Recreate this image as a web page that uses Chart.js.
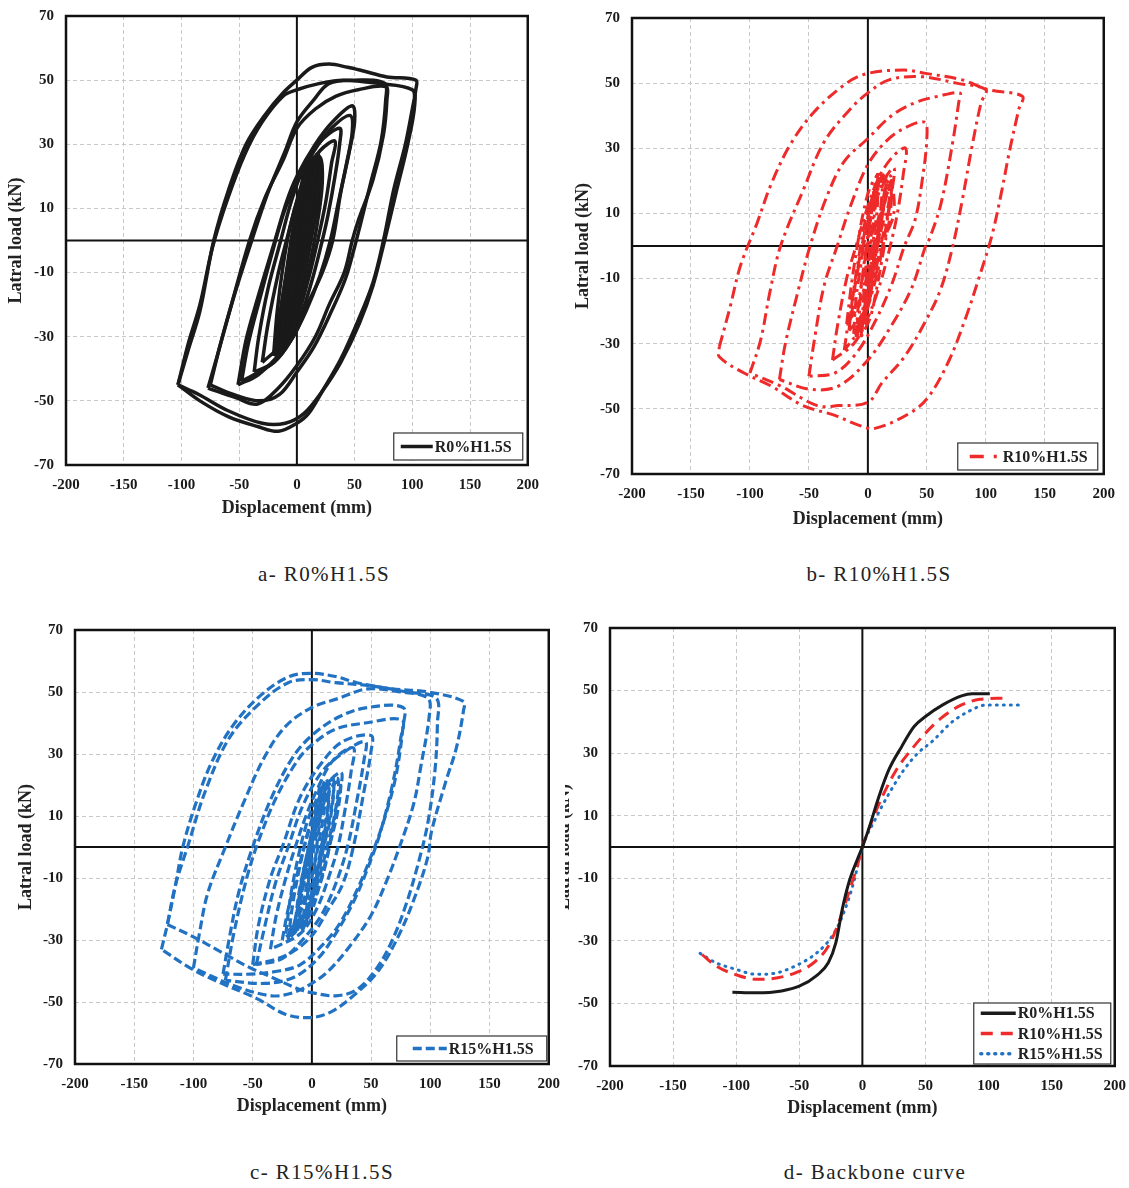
<!DOCTYPE html>
<html>
<head>
<meta charset="utf-8">
<script src="https://cdn.jsdelivr.net/npm/chart.js@4.4.1/dist/chart.umd.min.js"></script>
<style>
  body { margin: 0; background: #fff; width: 1129px; height: 1188px; position: relative; overflow: hidden; font-family: 'Liberation Serif', serif; }
  .box { position: absolute; }
  .cap { position: absolute; font-size: 21px; letter-spacing: 1.4px; color: #222; transform: translateX(-50%); white-space: nowrap; line-height: 24px; }
</style>
</head>
<body>
<div class="box" style="left:0;top:-5px"><canvas id="ca" width="550" height="530"></canvas></div>
<div class="box" style="left:565px;top:-3px"><canvas id="cb" width="561" height="537"></canvas></div>
<div class="box" style="left:0;top:609px"><canvas id="cc" width="571" height="515"></canvas></div>
<div class="box" style="left:565px;top:607px;width:564px;height:530px;overflow:hidden"><canvas id="cd" width="592" height="519" style="margin-left:-20px"></canvas></div>
<div class="cap" style="left:324px;top:562px">a- R0%H1.5S</div>
<div class="cap" style="left:879px;top:562px">b- R10%H1.5S</div>
<div class="cap" style="left:322px;top:1160px">c- R15%H1.5S</div>
<div class="cap" style="left:875px;top:1160px">d- Backbone curve</div>
<script>
// axis ticks
const xTicks = [-200, -150, -100, -50, 0, 50, 100, 150, 200];
const yTicks = [-70, -50, -30, -10, 10, 30, 50, 70];

// a - R0%H1.5S hysteresis loops (displacement mm, load kN)
const r0Loops = [
  [[-103,-45],[-94,-34],[-84,-22],[-72,0],[-59,16],[-44,30],[-28,39],[-12,46],[0,50],[13,54],[28,55],[44,54],[56,53],[78,51],[103,50],[103,47],[100,41],[94,30],[84,16],[75,0],[66,-13],[53,-25],[38,-37],[22,-47],[10,-54],[0,-57],[-16,-59.5],[-34,-58],[-59,-55],[-84,-50],[-103,-45]],
  [[-103,-45],[-94,-32],[-84,-20],[-73,-2],[-60,13],[-45,27],[-30,37],[-12,45],[0,47],[20,49],[40,50],[70,49],[100,47],[102,42],[96,30],[86,15],[76,0],[66,-14],[54,-26],[38,-38],[22,-47],[6,-54],[-10,-57],[-30,-57],[-60,-53],[-85,-48],[-103,-45]],
  [[-77,-46],[-69,-36],[-59,-23],[-41,0],[-28,13],[-12,25],[0,35],[16,41],[34,45],[53,47],[77,48],[78,44],[75,33],[66,19],[53,6],[48,0],[41,-10],[28,-20],[16,-30],[0,-39],[-16,-46],[-34,-51],[-53,-49],[-77,-46]],
  [[-75,-45],[-66,-32],[-55,-18],[-40,-1],[-25,15],[-10,28],[0,37],[15,44],[28,49],[50,50],[76,49],[77,44],[73,31],[64,18],[55,5],[50,-2],[42,-12],[30,-22],[15,-33],[0,-41],[-15,-48],[-32,-50],[-55,-48],[-75,-45]],
  [[-51,-45],[-44,-31],[-34,-18],[-19,0],[-9,12],[0,20],[16,30],[31,37],[48,42],[50,37],[45,27],[38,15],[31,0],[22,-10],[9,-20],[-3,-30],[-19,-37],[-34,-42],[-51,-45]],
  [[-48,-44],[-42,-32],[-32,-18],[-20,-2],[-10,10],[0,18],[15,28],[30,35],[46,39],[48,34],[43,24],[36,12],[29,0],[20,-11],[8,-22],[-5,-31],[-20,-38],[-48,-44]],
  [[-37,-41],[-33,-30],[-25,-15],[-14,0],[-5,12],[5,22],[18,30],[37,35],[37,30],[33,20],[27,8],[22,0],[15,-10],[5,-22],[-5,-31],[-20,-38],[-37,-41]],
  [[-30,-38],[-25,-26],[-16,-10],[-9,0],[0,12],[10,22],[20,28],[33,31],[30,24],[25,12],[18,0],[10,-12],[0,-24],[-12,-32],[-30,-38]],
  [[-20,-36],[-16,-26],[-10,-12],[-5,0],[0,10],[8,19],[17,25],[20,22],[17,12],[12,2],[7,-8],[0,-20],[-8,-30],[-20,-36]],
  [[-15,-35],[-12,-25],[-6,-10],[-2,0],[2,10],[8,20],[15,26],[15,20],[12,10],[8,0],[4,-10],[-2,-22],[-8,-30],[-15,-35]],
  [[-10,-33],[-7,-20],[-3,-8],[0,2],[4,12],[10,24],[12,18],[8,6],[4,-6],[0,-18],[-5,-28],[-10,-33]],
  [[-6,-30],[-3,-16],[0,-3],[3,10],[6,22],[8,14],[5,2],[2,-10],[-1,-20],[-6,-30]],
  [[-12,-30],[-8,-18],[-2,-4],[3,8],[9,18],[14,24],[16,14],[12,4],[6,-8],[0,-18],[-6,-26],[-12,-30]],
  [[-18,-34],[-14,-22],[-8,-8],[-3,3],[3,14],[10,22],[18,27],[20,22],[16,10],[10,-2],[4,-14],[-4,-26],[-18,-34]],
  [[-16,-33],[-12,-20],[-6,-6],[0,5],[6,15],[13,24],[16,18],[12,6],[6,-6],[0,-18],[-8,-28],[-16,-33]],
  [[-8,-30],[-5,-18],[-1,-6],[3,6],[8,17],[14,25],[13,14],[8,2],[3,-10],[-2,-22],[-8,-30]],
  [[-4,-24],[-1,-12],[2,0],[5,12],[10,26],[11,16],[7,4],[3,-8],[0,-18],[-4,-24]],
  [[-14,-30],[-10,-16],[-5,-4],[1,8],[7,18],[4,8],[0,-4],[-5,-16],[-14,-30]],
  [[2,-10],[5,5],[8,18],[18,26],[14,14],[9,2],[5,-8],[2,-10]],
  [[-20,-35],[-17,-22],[-12,-8],[-6,4],[2,15],[10,23],[20,26],[22,18],[18,6],[12,-6],[5,-18],[-5,-30],[-20,-35]],
  [[-17,-36],[-14,-28],[-10,-18],[-4,-6],[4,8],[12,18],[21,24],[19,14],[14,4],[8,-8],[0,-22],[-8,-32],[-17,-36]],
  [[-13,-34],[-8,-26],[-2,-14],[4,-2],[10,10],[16,20],[19,24],[17,10],[11,-2],[5,-14],[-3,-26],[-13,-34]]
];

// b - R10%H1.5S
const r10Loops = [
  [[-126,-31],[-117,-19],[-108,-6],[-94,7],[-82,19],[-66,31],[-46,41],[-18,50],[0,53],[31,54],[49,53],[80,51],[102,48],[131,46],[128,42],[120,29],[113,16],[105,3],[94,-10],[83,-22],[69,-35],[52,-46],[37,-51],[6,-56],[-8,-55],[-28,-52],[-55,-49],[-82,-43],[-105,-39],[-126,-34],[-126,-31]],
  [[-100,-39],[-91,-29],[-83,-14],[-74,0],[-55,17],[-37,32],[-15,42],[0,47],[18,51],[45,52],[75,50],[100,48],[96,44],[88,30],[80,14],[72,0],[62,-13],[49,-23],[31,-34],[12,-42],[0,-48],[-25,-49],[-43,-49],[-74,-43],[-100,-39]],
  [[-75,-41],[-70,-30],[-60,-15],[-49,0],[-35,15],[-20,26],[0,33],[20,40],[40,44],[60,46],[78,47],[77,44],[72,32],[62,13],[52,2],[49,0],[37,-13],[19,-25],[0,-35],[-25,-43],[-49,-44],[-75,-41]],
  [[-50,-40],[-45,-28],[-37,-12],[-26,0],[-15,12],[0,25],[15,32],[30,36],[48,38],[50,33],[46,20],[40,8],[31,0],[20,-12],[5,-24],[-10,-33],[-28,-39],[-50,-40]],
  [[-30,-35],[-26,-25],[-18,-10],[-10,0],[-2,10],[8,20],[20,27],[32,30],[30,22],[25,10],[19,0],[10,-12],[0,-22],[-12,-30],[-30,-35]],
  [[-20,-32],[-16,-22],[-10,-10],[-4,0],[2,10],[10,18],[22,24],[20,16],[15,5],[10,-5],[3,-15],[-6,-25],[-20,-32]],
  [[-10,-28],[-8,-18],[-4,-8],[0,2],[4,12],[10,20],[15,21],[12,12],[8,2],[4,-8],[0,-18],[-5,-25],[-10,-28]],
  [[-5,-25],[-3,-12],[0,0],[3,12],[8,22],[8,12],[4,0],[1,-12],[-5,-25]],
  [[-12,-27],[-10,-16],[-6,-6],[-2,4],[3,13],[9,20],[15,22],[14,14],[10,4],[6,-6],[1,-16],[-5,-23],[-12,-27]],
  [[-8,-26],[-6,-14],[-2,-2],[2,8],[6,16],[12,21],[11,12],[7,2],[3,-10],[-1,-18],[-8,-26]],
  [[-14,-22],[-10,-10],[-4,2],[2,12],[8,19],[5,8],[1,-4],[-4,-14],[-14,-22]],
  [[-3,-20],[0,-8],[3,4],[7,14],[16,20],[18,14],[12,6],[6,-4],[2,-14],[-3,-20]],
  [[-10,-24],[-4,-20],[4,-2],[10,10],[20,18],[22,10],[14,2],[6,-10],[-2,-20],[-10,-24]],
  [[-16,-26],[-13,-16],[-8,-4],[-2,8],[6,17],[14,22],[20,21],[18,12],[12,2],[5,-10],[-3,-20],[-16,-26]],
  [[-18,-24],[-14,-12],[-9,0],[-4,10],[2,18],[10,22],[16,18],[10,6],[4,-6],[-4,-16],[-18,-24]],
  [[-6,-28],[-2,-18],[4,-6],[10,6],[16,16],[20,20],[19,10],[14,0],[8,-12],[2,-22],[-6,-28]]
];

// c - R15%H1.5S
const r15Loops = [
  [[-127,-33],[-122,-25],[-115,-12],[-109,0],[-98,14],[-85,27],[-67,39],[-43,49],[-19,55],[0,56],[20,55],[38,53],[68,51],[98,50],[128,47],[128,44],[122,32],[113,21],[101,5],[98,-3],[89,-14],[74,-28],[56,-40],[35,-48],[17,-53],[0,-55],[-22,-54],[-46,-49],[-82,-43],[-103,-39],[-127,-33]],
  [[-122,-25],[-100,-29],[-76,-34],[-52,-39],[-34,-42],[-10,-46],[0,-47],[20,-48],[38,-46],[55,-39],[68,-30],[80,-18],[90,-5],[98,8],[104,25],[106,40],[105,48],[80,50],[50,52],[20,53],[0,54],[-20,53],[-45,46],[-70,35],[-90,18],[-105,0],[-115,-12],[-122,-25]],
  [[-100,-39],[-95,-28],[-88,-15],[-73,0],[-58,14],[-40,29],[-22,39],[0,45],[23,48],[47,51],[75,50],[98,48],[99,42],[92,26],[86,14],[74,0],[62,-12],[50,-22],[32,-32],[14,-40],[0,-44],[-16,-47],[-34,-48],[-64,-45],[-100,-39]],
  [[-75,-41],[-70,-30],[-62,-15],[-50,0],[-34,16],[-16,29],[0,36],[23,42],[47,45],[77,45],[77,39],[71,23],[62,10],[53,0],[38,-14],[23,-25],[8,-32],[-10,-38],[-28,-40],[-52,-41],[-75,-41]],
  [[-73,-43],[-66,-28],[-55,-10],[-45,2],[-30,16],[-12,28],[0,33],[20,38],[45,40],[76,41],[75,35],[68,20],[58,5],[50,-4],[36,-17],[20,-28],[5,-36],[-15,-42],[-40,-44],[-73,-43]],
  [[-50,-38],[-45,-25],[-35,-10],[-25,0],[-10,16],[8,27],[26,34],[50,36],[50,31],[44,18],[35,0],[26,-12],[14,-20],[-1,-29],[-22,-35],[-50,-38]],
  [[-47,-38],[-40,-26],[-31,-12],[-20,0],[-8,13],[8,24],[25,30],[45,34],[44,28],[38,15],[30,0],[20,-12],[8,-22],[-8,-30],[-25,-36],[-47,-38]],
  [[-35,-33],[-30,-22],[-22,-10],[-14,0],[-5,10],[5,19],[18,28],[35,32],[33,24],[28,12],[22,0],[14,-10],[4,-20],[-10,-28],[-35,-33]],
  [[-25,-30],[-20,-20],[-12,-8],[-5,2],[3,12],[12,20],[25,24],[22,15],[17,5],[12,-5],[4,-15],[-8,-24],[-25,-30]],
  [[-12,-27],[-9,-16],[-4,-5],[0,5],[5,14],[12,22],[14,15],[10,5],[6,-5],[1,-15],[-5,-22],[-12,-27]],
  [[-5,-25],[-3,-12],[0,0],[3,10],[7,20],[7,10],[4,0],[1,-12],[-5,-25]],
  [[-20,-30],[-16,-18],[-10,-6],[-4,4],[3,12],[10,19],[18,22],[17,14],[12,4],[6,-6],[-1,-16],[-10,-25],[-20,-30]],
  [[-15,-28],[-11,-15],[-5,-4],[1,6],[7,14],[14,20],[13,10],[8,0],[3,-10],[-4,-20],[-15,-28]],
  [[-8,-27],[-5,-14],[-1,-2],[4,8],[9,17],[18,21],[16,10],[10,0],[4,-12],[-1,-20],[-8,-27]],
  [[-12,-22],[-6,-10],[0,2],[6,12],[12,18],[8,6],[2,-6],[-4,-16],[-12,-22]],
  [[-22,-28],[-18,-16],[-12,-4],[-4,8],[5,16],[14,21],[22,22],[20,12],[14,2],[6,-10],[-4,-20],[-22,-28]],
  [[-18,-29],[-12,-20],[-6,-8],[2,4],[10,14],[18,20],[24,21],[22,12],[16,2],[8,-10],[-2,-22],[-18,-29]],
  [[-14,-26],[-10,-14],[-4,-2],[4,10],[12,18],[6,8],[0,-4],[-6,-16],[-14,-26]]
];

// d - backbone curves
const r0Back = [[-103,-46.4],[-84,-46.6],[-64,-46],[-50,-44.5],[-36,-41],[-27,-37],[-21,-30.6],[-16,-20],[-10,-10.4],[-4,-4],[0,0],[5.7,6.6],[13,16],[21,24.7],[31,32],[41,38.5],[50,41.7],[64,45.5],[78.6,48.3],[87,49],[101,49]];
const r10Back = [[-127,-34.4],[-116,-38],[-101,-40.7],[-84,-42.3],[-67,-41.8],[-53,-40.2],[-38.6,-37],[-27,-31.7],[-18.6,-24],[-10,-13.6],[-4,-6],[0,0],[7,7.7],[15.7,16],[27,24.7],[38.6,31],[50,36.4],[64,41.7],[78.6,45.4],[93,47.2],[113,47.6]];
const r15Back = [[-128.6,-34],[-116,-37],[-101,-39],[-84,-40.7],[-70,-40.4],[-53,-38],[-36,-33.8],[-24,-28.5],[-15.7,-22],[-7,-11.5],[0,0],[10,8.7],[21,17],[33,24.7],[44,30],[56,34],[70,39.6],[84,43.3],[98.6,45.4],[126,45.4]];

const FONT = 'Liberation Serif';
const BLACK = '#1a1a1a', RED = '#ee2a2a', BLUE = '#2272c3';

const deco = {
  id: 'deco',
  beforeDatasetsDraw(chart) {
    const { ctx, chartArea: a, scales: { x, y } } = chart;
    const x0 = x.getPixelForValue(0), y0 = y.getPixelForValue(0);
    ctx.save();
    ctx.strokeStyle = '#111';
    ctx.lineWidth = 2;
    ctx.beginPath();
    ctx.moveTo(x0, a.top); ctx.lineTo(x0, a.bottom);
    ctx.moveTo(a.left, y0); ctx.lineTo(a.right, y0);
    ctx.stroke();
    ctx.restore();
  },
  afterDatasetsDraw(chart, args, opts) {
    const { ctx, chartArea: a } = chart;
    ctx.save();
    ctx.strokeStyle = '#111';
    ctx.lineWidth = 2.5;
    ctx.strokeRect(a.left, a.top, a.right - a.left, a.bottom - a.top);
    const lg = opts.legend;
    if (lg) {
      const bx = a.right - lg.dx - lg.w, by = a.bottom - lg.dy - lg.h;
      ctx.fillStyle = '#fff';
      ctx.fillRect(bx, by, lg.w, lg.h);
      ctx.lineWidth = 1.2;
      ctx.strokeStyle = '#333';
      ctx.strokeRect(bx, by, lg.w, lg.h);
      const rh = lg.h / lg.items.length;
      lg.items.forEach((it, i) => {
        const cy = by + rh * (i + 0.5);
        ctx.beginPath();
        ctx.strokeStyle = it.color;
        ctx.lineWidth = it.width;
        ctx.lineCap = it.cap || 'butt';
        ctx.setLineDash(it.dash || []);
        ctx.moveTo(bx + lg.x1, cy); ctx.lineTo(bx + lg.x2, cy);
        ctx.stroke();
        ctx.setLineDash([]);
        ctx.fillStyle = '#222';
        ctx.font = 'bold 16px ' + FONT;
        ctx.textBaseline = 'middle';
        ctx.textAlign = 'left';
        ctx.fillText(it.label, bx + lg.x2 + 2, cy + 1);
      });
    }
    ctx.restore();
  }
};

function loopSets(loops, style) {
  return loops.map(p => Object.assign({
    data: p.map(([x, y]) => ({ x, y })),
    showLine: true, pointRadius: 0, tension: 0.35, fill: false
  }, style));
}

function makeChart(id, datasets, o) {
  return new Chart(document.getElementById(id), {
    type: 'scatter',
    data: { datasets },
    options: {
      responsive: false,
      animation: false,
      events: [],
      layout: { padding: { left: 0, top: 15, right: 12, bottom: 0 } },
      plugins: { legend: { display: false }, tooltip: { enabled: false }, deco: { legend: o.legend } },
      scales: {
        x: {
          type: 'linear', min: -200, max: 200,
          afterBuildTicks: s => { s.ticks = xTicks.map(v => ({ value: v })); },
          afterFit: s => { s.height = 60; },
          grid: { color: '#c8c8c8', lineWidth: 1, drawTicks: false },
          border: { display: false, dash: [4, 3] },
          ticks: { font: { family: FONT, size: 15, weight: 'bold' }, color: '#1a1a1a', padding: 11, maxRotation: 0, autoSkip: false },
          title: { display: true, text: 'Displacement (mm)', font: { family: FONT, size: 18, weight: 'bold' }, color: '#222', padding: { top: 0, bottom: o.xtp } }
        },
        y: {
          type: 'linear', min: -70, max: 70,
          afterBuildTicks: s => { s.ticks = yTicks.map(v => ({ value: v })); },
          afterFit: s => { s.width = o.yw; },
          grid: { color: '#c8c8c8', lineWidth: 1, drawTicks: false },
          border: { display: false, dash: [4, 3] },
          ticks: { font: { family: FONT, size: 15, weight: 'bold' }, color: '#1a1a1a', padding: 12, autoSkip: false },
          title: { display: true, text: 'Latral load (kN)', font: { family: FONT, size: 18, weight: 'bold' }, color: '#222', padding: { top: o.ytp, bottom: 0 } }
        }
      }
    },
    plugins: [deco]
  });
}

makeChart('ca', loopSets(r0Loops, { borderColor: BLACK, borderWidth: 3.5 }), {
  yw: 66, ytp: 6, xtp: 6,
  legend: { w: 129, h: 27, dx: 5, dy: 5, x1: 7, x2: 39, items: [{ label: 'R0%H1.5S', color: BLACK, width: 3.5 }] }
});

makeChart('cb', loopSets(r10Loops, { borderColor: RED, borderWidth: 3, borderDash: [12, 5, 3, 5] }), {
  yw: 67, ytp: 8, xtp: 4,
  legend: { w: 140, h: 27, dx: 6, dy: 4, x1: 12, x2: 43, items: [{ label: 'R10%H1.5S', color: RED, width: 3.5, dash: [14, 10, 3, 10] }] }
});

makeChart('cc', loopSets(r15Loops, { borderColor: BLUE, borderWidth: 3.2, borderDash: [9, 4] }), {
  yw: 75, ytp: 16, xtp: 7,
  legend: { w: 150, h: 25, dx: 2, dy: 3, x1: 16, x2: 50, items: [{ label: 'R15%H1.5S', color: BLUE, width: 3.5, dash: [9, 4] }] }
});

const backSets = [
  { data: r0Back.map(([x, y]) => ({ x, y })), borderColor: BLACK, borderWidth: 3 },
  { data: r10Back.map(([x, y]) => ({ x, y })), borderColor: RED, borderWidth: 3, borderDash: [12, 7] },
  { data: r15Back.map(([x, y]) => ({ x, y })), borderColor: BLUE, borderWidth: 3, borderDash: [1, 6], borderCapStyle: 'round' }
].map(d => Object.assign(d, { showLine: true, pointRadius: 0, cubicInterpolationMode: 'monotone', fill: false }));

makeChart('cd', backSets, {
  yw: 65, ytp: 9, xtp: 7,
  legend: { w: 137, h: 61, dx: 4, dy: 2, x1: 7, x2: 42, items: [
    { label: 'R0%H1.5S', color: BLACK, width: 3.5 },
    { label: 'R10%H1.5S', color: RED, width: 3.5, dash: [12, 8] },
    { label: 'R15%H1.5S', color: BLUE, width: 3.5, dash: [1, 6], cap: 'round' }
  ] }
});
</script>
</body>
</html>
